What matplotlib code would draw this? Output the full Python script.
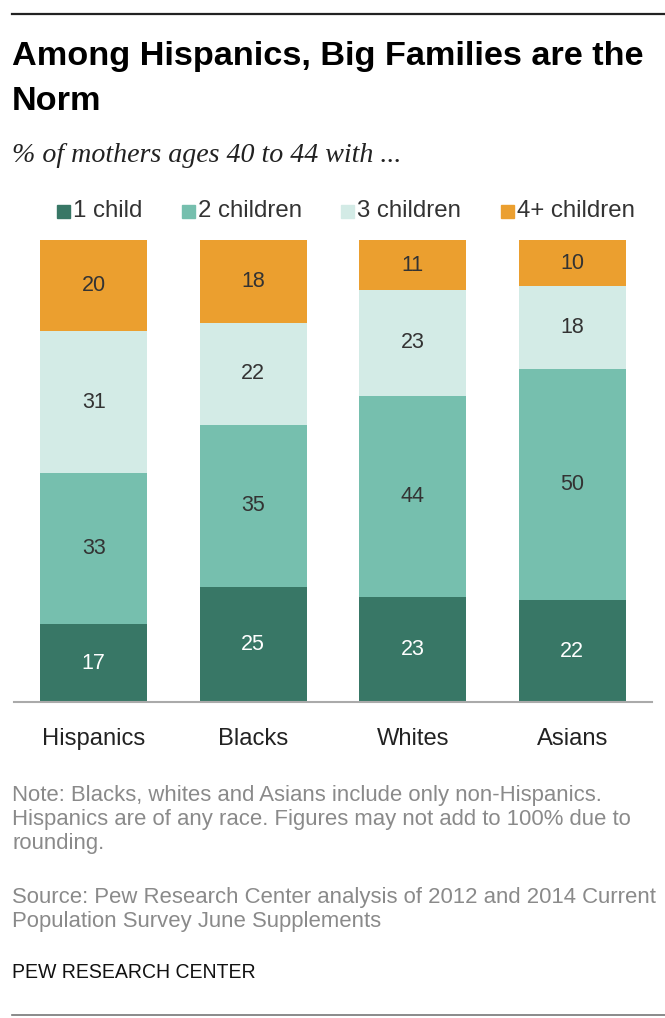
import numpy as np
import matplotlib.pyplot as plt
from matplotlib.lines import Line2D
from matplotlib.patches import Rectangle

# data
groups = ['Hispanics', 'Blacks', 'Whites', 'Asians']
series = ['1 child', '2 children', '3 children', '4+ children']
one_child = [17, 25, 23, 22]
two_children = [33, 35, 44, 50]
three_children = [31, 22, 23, 18]
four_plus = [20, 18, 11, 10]

colors = ['#387766', '#76bfae', '#d3ebe6', '#eb9f2f']
txt_colors = ['white', '#333333', '#333333', '#333333']

W, H = 665, 1018
plt.rcParams['font.family'] = ['Liberation Sans', 'DejaVu Sans']

fig = plt.figure(figsize=(W / 100, H / 100), dpi=100)
renderer = fig.canvas.get_renderer()


def fx(px):
    return px / W


def fy(py):
    return 1 - py / H


def fit(t, width):
    # scale the font so the text spans `width` pixels
    bb = t.get_window_extent(renderer)
    t.set_fontsize(t.get_fontsize() * width / bb.width)
    return t.get_fontsize()


ax = fig.add_axes([fx(14), fy(702), fx(652) - fx(14), fy(240) - fy(702)])

x = np.arange(len(groups))
vals = np.array([one_child, two_children, three_children, four_plus], dtype=float)
totals = vals.sum(axis=0)
bottom = np.zeros(len(groups))
for name, v, c, tc in zip(series, vals, colors, txt_colors):
    h = v / totals * 100  # bars drawn to full 100%
    ax.bar(x, h, 0.67, bottom=bottom, color=c, label=name)
    for xi, b, hi, vi in zip(x, bottom, h, v):
        ax.text(xi, b + hi / 2, '%d' % vi, ha='center', va='center',
                fontsize=15.5, color=tc)
    bottom += h

ax.set_xlim(-0.5, 3.5)
ax.set_ylim(0, 100)
ax.set_yticks([])
ax.set_xticks(x)
ax.set_xticklabels(groups, fontsize=14, color='#222222')
ax.tick_params(axis='x', length=0, pad=19)
for s in ['top', 'right', 'left']:
    ax.spines[s].set_visible(False)
ax.spines['bottom'].set_color('#aaaaaa')
ax.spines['bottom'].set_linewidth(1.5)
fs = fit(ax.get_xticklabels()[0], 104)
for lab in ax.get_xticklabels():
    lab.set_fontsize(fs)

# legend, laid out by hand like the original
sq_x = [57, 182, 341, 501]
lg_fs = None
for i, (name, c) in enumerate(zip(series, colors)):
    fig.add_artist(Rectangle((fx(sq_x[i]), fy(218)), fx(13), fy(205) - fy(218),
                             color=c, transform=fig.transFigure))
    t = fig.text(fx(sq_x[i] + 16), fy(211), name, fontsize=14, va='center',
                 ha='left', color='#333333')
    if lg_fs is None:
        lg_fs = fit(t, 70)
    else:
        t.set_fontsize(lg_fs)

fig.add_artist(Line2D([fx(12), 1], [fy(14), fy(14)], color='#222222', lw=1.6))
fig.add_artist(Line2D([fx(12), 1], [fy(1015), fy(1015)], color='#777777', lw=1.2))

t1 = fig.text(fx(12), fy(57), 'Among Hispanics, Big Families are the', fontsize=23,
              fontweight='bold', va='center', ha='left', color='black')
tfs = fit(t1, 633)
fig.text(fx(12), fy(102), 'Norm', fontsize=tfs, fontweight='bold',
         va='center', ha='left', color='black')
st = fig.text(fx(12), fy(155), '% of mothers ages 40 to 44 with ...', fontsize=15,
              style='italic', family=['Liberation Serif', 'DejaVu Serif'],
              va='center', ha='left', color='#222222')
fit(st, 392)

note = ['Note: Blacks, whites and Asians include only non-Hispanics.',
        'Hispanics are of any race. Figures may not add to 100% due to',
        'rounding.']
src = ['Source: Pew Research Center analysis of 2012 and 2014 Current',
       'Population Survey June Supplements']
nt = fig.text(fx(12), fy(796), note[0], fontsize=13, va='center', ha='left',
              color='#8a8a8a')
sc = fig.text(fx(12), fy(898), src[0], fontsize=13, va='center', ha='left',
              color='#8a8a8a')
nfs = min(fit(nt, 613), fit(sc, 643))
nt.set_fontsize(nfs)
sc.set_fontsize(nfs)
for yy, line in zip([820, 844], note[1:]):
    fig.text(fx(12), fy(yy), line, fontsize=nfs, va='center', ha='left',
             color='#8a8a8a')
fig.text(fx(12), fy(922), src[1], fontsize=nfs, va='center', ha='left',
         color='#8a8a8a')
pw = fig.text(fx(12), fy(972), 'PEW RESEARCH CENTER', fontsize=13, va='center',
              ha='left', color='#111111')
fit(pw, 243)

fig.savefig('out.png', dpi=100)
